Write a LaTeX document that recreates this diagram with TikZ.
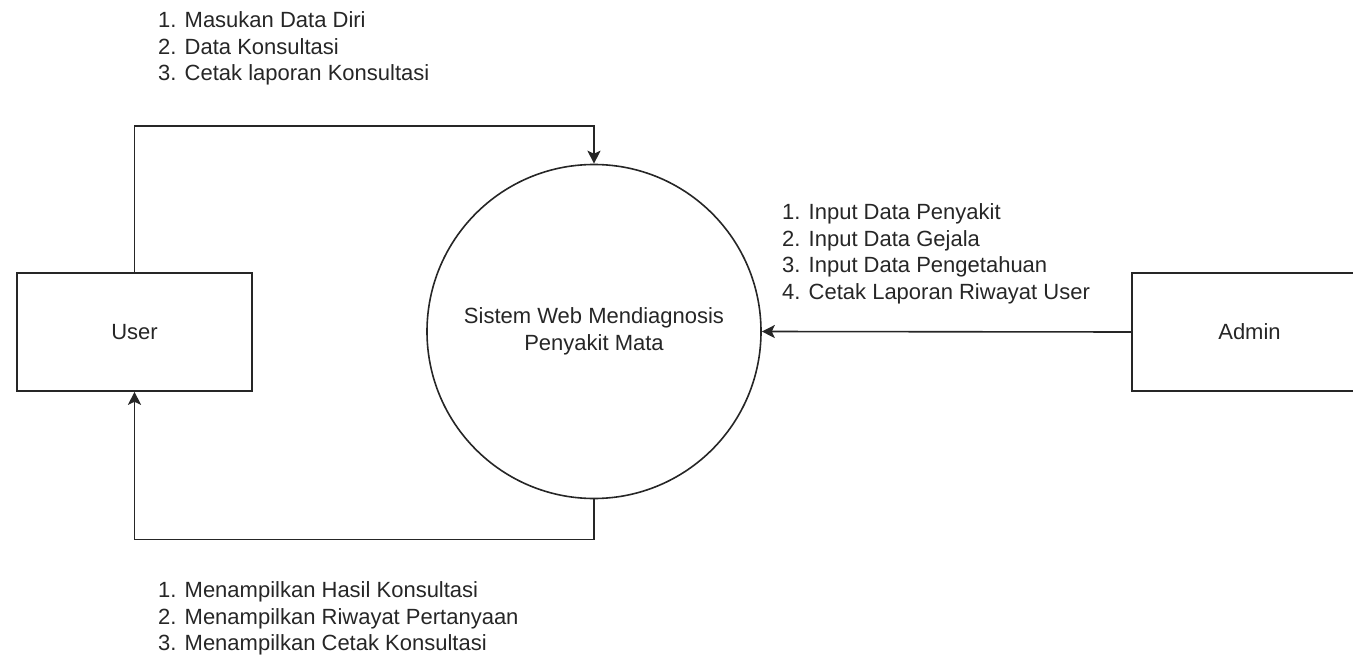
\documentclass[tikz,border=0pt]{standalone}
\usepackage{fontspec}
\setmainfont{Liberation Sans}
\usepackage{tikz}
\usetikzlibrary{arrows.meta, positioning}

\begin{document}
\begin{tikzpicture}[x=1pt, y=1pt,
    every node/.style={font=\fontsize{22}{26.5}\selectfont, text=black!85},
    box/.style={rectangle, draw=black!85, line width=1.6pt, minimum width=235pt, minimum height=118pt},
    proc/.style={circle, draw=black!85, line width=1.6pt, minimum size=334pt, align=center},
    lbl/.style={align=left, inner sep=0pt, anchor=north west},
    flow/.style={draw=black!85, line width=1.6pt, -{Stealth[length=13pt, width=13pt, inset=3pt]}}]

    \path[use as bounding box, clip] (0,0) rectangle (1353,-658);

    \node[box] (user) at (134.5,-332) {User};
    \node[proc] (sys) at (594,-331.5) {Sistem Web Mendiagnosis\\Penyakit Mata};
    \node[box] (admin) at (1249.5,-332) {Admin};

    \node[lbl] (inuser) at (158,-11.5) {1. Masukan Data Diri\\2. Data Konsultasi\\3. Cetak laporan Konsultasi};
    \node[lbl] (inadmin) at (782,-203.5) {1. Input Data Penyakit\\2. Input Data Gejala\\3. Input Data Pengetahuan\\4. Cetak Laporan Riwayat User};
    \node[lbl] (outuser) at (158,-581.5) {1. Menampilkan Hasil Konsultasi\\2. Menampilkan Riwayat Pertanyaan\\3. Menampilkan Cetak Konsultasi};

    \draw[flow] (user.north) -- ++(0,146) -| (sys.north);
    \draw[flow] (sys.south) -- ++(0,-40) -| (user.south);
    \draw[flow] (admin.west) -- (sys.east);

\end{tikzpicture}
\end{document}
